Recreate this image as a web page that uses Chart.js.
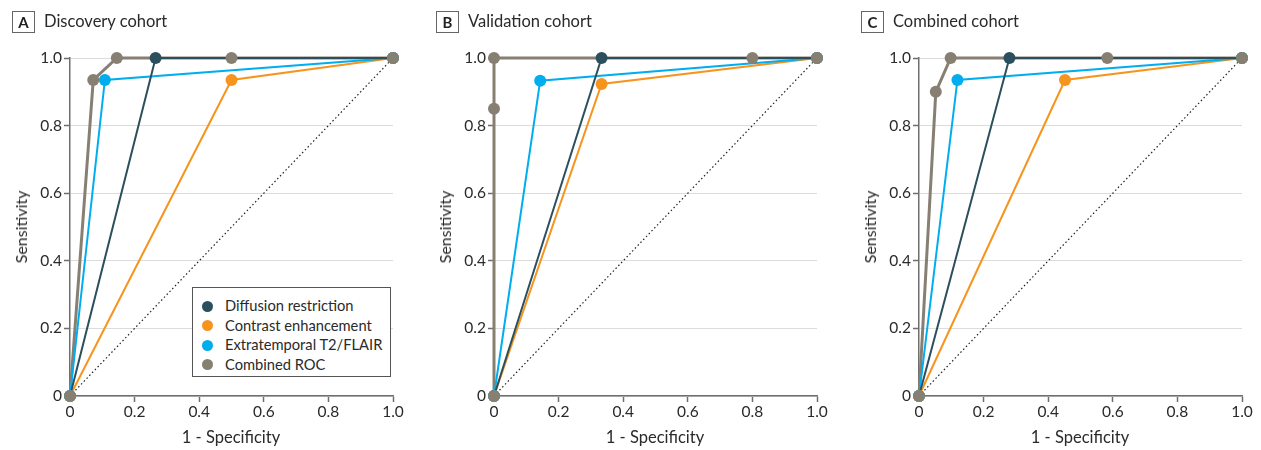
<!DOCTYPE html>
<html><head><meta charset="utf-8">
<script src="https://cdn.jsdelivr.net/npm/chart.js@4.4.0/dist/chart.umd.min.js"></script>
<style>
body{margin:0;background:#fff;width:1261px;height:450px;overflow:hidden;font-family:Lato,"Noto Sans",sans-serif;color:#2a2a2a;position:relative;}
.panel{position:absolute;top:0;width:412px;height:450px;}
.panel canvas{position:absolute;left:0;top:0;}
.tag{position:absolute;left:12px;top:11px;width:21px;height:20px;border:1px solid #666;font-weight:bold;font-size:15px;text-align:center;line-height:20px;color:#222;box-sizing:content-box;}
.ttl{position:absolute;left:44px;top:10px;font-size:16.5px;line-height:22px;color:#2a2a2a;white-space:nowrap;}
.ytl{position:absolute;left:21px;top:227px;font-size:16px;line-height:18px;transform:translate(-50%,-50%) rotate(-90deg);white-space:nowrap;color:#2a2a2a;}
.xtl{position:absolute;left:231px;top:437px;font-size:16.5px;line-height:18px;transform:translate(-50%,-50%);white-space:nowrap;color:#2a2a2a;}
.legend{position:absolute;left:192px;top:287px;width:199px;height:90px;border:1px solid #555;background:#fff;box-sizing:border-box;padding-top:8px;}
.legend div{position:relative;height:19.5px;line-height:19.5px;font-size:14.7px;padding-left:32px;white-space:nowrap;color:#2a2a2a;}
.legend span{position:absolute;left:9px;top:4.5px;width:11px;height:11px;border-radius:50%;}
</style>
</head><body>
<script>
// ---- data ----
const tickValues = [0, 0.2, 0.4, 0.6, 0.8, 1.0];
const tickLabels = ['0', '0.2', '0.4', '0.6', '0.8', '1.0'];
const seriesNames = ['Diffusion restriction', 'Contrast enhancement', 'Extratemporal T2/FLAIR', 'Combined ROC'];
const panelTags = ['A', 'B', 'C'];
const panelTitles = ['Discovery cohort', 'Validation cohort', 'Combined cohort'];
const xAxisTitle = '1 - Specificity';
const yAxisTitle = 'Sensitivity';

// Panel A (Discovery)
const diffA_x = [0, 0.265, 1], diffA_y = [0, 1, 1];
const contA_x = [0, 0.5, 1],   contA_y = [0, 0.935, 1];
const extA_x  = [0, 0.108, 1], extA_y  = [0, 0.935, 1];
const combA_x = [0, 0.072, 0.145, 0.5, 1], combA_y = [0, 0.935, 1, 1, 1];
// Panel B (Validation)
const diffB_x = [0, 0.333, 1], diffB_y = [0, 1, 1];
const contB_x = [0, 0.333, 1], contB_y = [0, 0.923, 1];
const extB_x  = [0, 0.143, 1], extB_y  = [0, 0.933, 1];
const combB_x = [0, 0, 0, 0.8, 1], combB_y = [0, 0.85, 1, 1, 1];
// Panel C (Combined)
const diffC_x = [0, 0.28, 1],  diffC_y = [0, 1, 1];
const contC_x = [0, 0.452, 1], contC_y = [0, 0.935, 1];
const extC_x  = [0, 0.119, 1], extC_y  = [0, 0.935, 1];
const combC_x = [0, 0.052, 0.098, 0.583, 1], combC_y = [0, 0.90, 1, 1, 1];
// chance line
const diag_x = [0, 1], diag_y = [0, 1];

// ---- styles ----
const colors = ['#2c4f5d', '#f7941d', '#00aeef', '#877f72'];
const lineWidths = [2, 2, 2, 3];

const panels = [
  [[diffA_x, diffA_y], [contA_x, contA_y], [extA_x, extA_y], [combA_x, combA_y]],
  [[diffB_x, diffB_y], [contB_x, contB_y], [extB_x, extB_y], [combB_x, combB_y]],
  [[diffC_x, diffC_y], [contC_x, contC_y], [extC_x, extC_y], [combC_x, combC_y]]
];
const panelLefts = [0, 424, 849];

Chart.defaults.font.family = 'Lato, "Noto Sans", sans-serif';
Chart.defaults.font.size = 15.5;
Chart.defaults.color = '#2a2a2a';

function pts(xs, ys) { return xs.map((x, i) => ({x: x, y: ys[i]})); }

panels.forEach((series, p) => {
  const div = document.createElement('div');
  div.className = 'panel';
  div.style.left = panelLefts[p] + 'px';
  const cv = document.createElement('canvas');
  cv.width = 412; cv.height = 450;
  cv.style.width = '412px'; cv.style.height = '450px';
  div.appendChild(cv);
  div.insertAdjacentHTML('beforeend',
    '<div class="tag">' + panelTags[p] + '</div>' +
    '<div class="ttl">' + panelTitles[p] + '</div>' +
    '<div class="ytl">' + yAxisTitle + '</div>' +
    '<div class="xtl">' + xAxisTitle + '</div>');
  if (p === 0) {
    let h = '<div class="legend">';
    seriesNames.forEach((n, i) => { h += '<div><span style="background:' + colors[i] + '"></span>' + n + '</div>'; });
    h += '</div>';
    div.insertAdjacentHTML('beforeend', h);
  }
  document.body.appendChild(div);

  const datasets = [];
  datasets.push({
    data: pts(diag_x, diag_y), showLine: true, borderColor: '#222', borderWidth: 1.2,
    borderDash: [1.5, 2.5], pointRadius: 0, order: 100, clip: false
  });
  const lineOrder = [20, 40, 30, 50];
  const ptOrder = [14, 13, 12, 10];
  series.forEach((s, i) => {
    datasets.push({
      data: pts(s[0], s[1]), showLine: true, borderColor: colors[i], borderWidth: lineWidths[i],
      pointRadius: 0, order: lineOrder[i], clip: false, tension: 0
    });
    datasets.push({
      data: pts(s[0], s[1]), showLine: false, backgroundColor: colors[i], borderColor: colors[i],
      borderWidth: 0, pointRadius: 6, pointHoverRadius: 6, order: ptOrder[i], clip: false
    });
  });

  new Chart(cv, {
    type: 'scatter',
    data: { datasets: datasets },
    options: {
      responsive: false, animation: false, devicePixelRatio: 1,
      layout: { padding: { left: 0, top: 58, right: 19, bottom: 0 } },
      plugins: { legend: { display: false }, tooltip: { enabled: false } },
      events: [],
      scales: {
        x: {
          type: 'linear', min: 0, max: 1,
          afterBuildTicks: (sc) => { sc.ticks = tickValues.map(v => ({value: v})); },
          afterFit: (sc) => { sc.height = 54; },
          ticks: { callback: (v) => tickLabels[tickValues.indexOf(v)] ?? '', padding: 1, maxRotation: 0, autoSkip: false },
          grid: { drawOnChartArea: false, drawTicks: true, tickLength: 6, tickColor: '#6e6e6e', tickWidth: 1.5 },
          border: { color: '#6e6e6e', width: 1.5 }
        },
        y: {
          type: 'linear', min: 0, max: 1,
          afterBuildTicks: (sc) => { sc.ticks = tickValues.map(v => ({value: v})); },
          afterFit: (sc) => { sc.width = 70; },
          ticks: { callback: (v) => tickLabels[tickValues.indexOf(v)] ?? '', padding: 2, autoSkip: false },
          grid: { color: '#dcdcdc', lineWidth: 1, drawTicks: true, tickLength: 6, tickColor: '#6e6e6e', tickWidth: 1.5 },
          border: { color: '#6e6e6e', width: 1.5 }
        }
      }
    }
  });
});
</script>
</body></html>
